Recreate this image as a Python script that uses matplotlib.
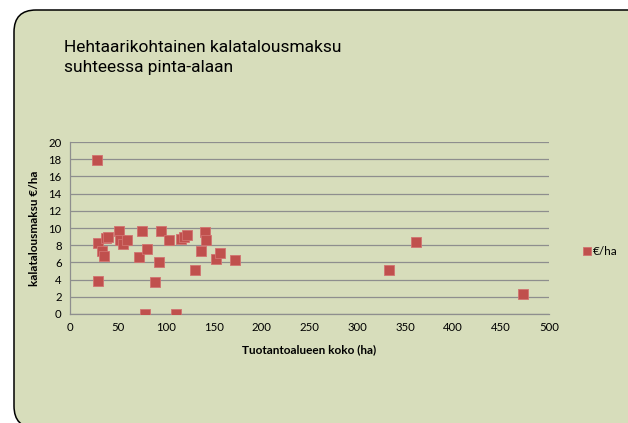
import matplotlib
matplotlib.use("Agg")
import matplotlib.pyplot as plt
from matplotlib.patches import FancyBboxPatch

# ── Data ────────────────────────────────────────────────────
area_ha = [28, 29, 29, 33, 36, 38, 40, 51.5, 52, 55.5, 59, 72.5, 75.5, 78.5, 80,
           89, 93, 95, 103, 110.5, 116, 118.5, 122, 130, 136.5, 141, 142, 152,
           156.5, 172, 333, 361, 472.5]
fee_per_ha = [17.9, 3.8, 8.3, 7.3, 6.7, 8.8, 9.0, 9.6, 8.6, 8.1, 8.6, 6.6, 9.7, 0.0, 7.6,
              3.7, 6.0, 9.6, 8.6, 0.0, 8.7, 9.0, 9.2, 5.1, 7.3, 9.5, 8.6, 6.4,
              7.1, 6.3, 5.1, 8.4, 2.3]

TITLE   = "Hehtaarikohtainen kalatalousmaksu\nsuhteessa pinta-alaan"
XLABEL  = "Tuotantoalueen koko (ha)"
YLABEL  = "kalatalousmaksu €/ha"
SERIES  = "€/ha"

BG      = "#D7DDBB"
RED     = "#C0504D"
GRID    = "#8E8E8E"

fig = plt.figure(figsize=(6.28, 4.23), dpi=100)
fig.patch.set_facecolor("white")

# rounded slide-like panel, kept behind the axes
panel = FancyBboxPatch((0.14, -0.05), 6.5, 4.18,
                       boxstyle="round,pad=0,rounding_size=0.22",
                       transform=fig.dpi_scale_trans, zorder=-10,
                       facecolor=BG, edgecolor="black", lw=1.1)
fig.patches.append(panel)

fig.text(64 / 628, 1 - 40 / 423, TITLE, ha="left", va="top",
         fontsize=12.5, family="Roboto", color="black",
         linespacing=1.38)

ax = fig.add_axes([70 / 628, 1 - 314 / 423, 479 / 628, 172 / 423])
ax.set_facecolor("none")

ax.scatter(area_ha, fee_per_ha, marker="s", s=62, color=RED,
           edgecolor="#D27370", linewidth=0.6, zorder=3, label=SERIES)

ax.set_xlim(0, 500)
ax.set_ylim(0, 20)
ax.set_xticks(range(0, 501, 50))
ax.set_yticks(range(0, 21, 2))
ax.grid(axis="y", color=GRID, lw=0.9)
ax.set_axisbelow(True)
for s in ["top", "right"]:
    ax.spines[s].set_visible(False)
for s in ["left", "bottom"]:
    ax.spines[s].set_color(GRID)
    ax.spines[s].set_linewidth(0.9)
ax.tick_params(length=0, labelsize=8.2, pad=6)
for lab in ax.get_xticklabels() + ax.get_yticklabels():
    lab.set_family("Lato")

ax.set_xlabel(XLABEL, fontsize=8.5, fontweight="bold", family="Lato", labelpad=8)
ax.set_ylabel(YLABEL, fontsize=8.5, fontweight="bold", family="Lato", labelpad=6)

leg = fig.legend(loc="center left", bbox_to_anchor=(570 / 628, 1 - 251 / 423),
                 frameon=False, handletextpad=0.0, handlelength=1.0,
                 markerscale=0.8, prop={"family": "Lato", "size": 8.5})

fig.savefig("out.png", dpi=100)
